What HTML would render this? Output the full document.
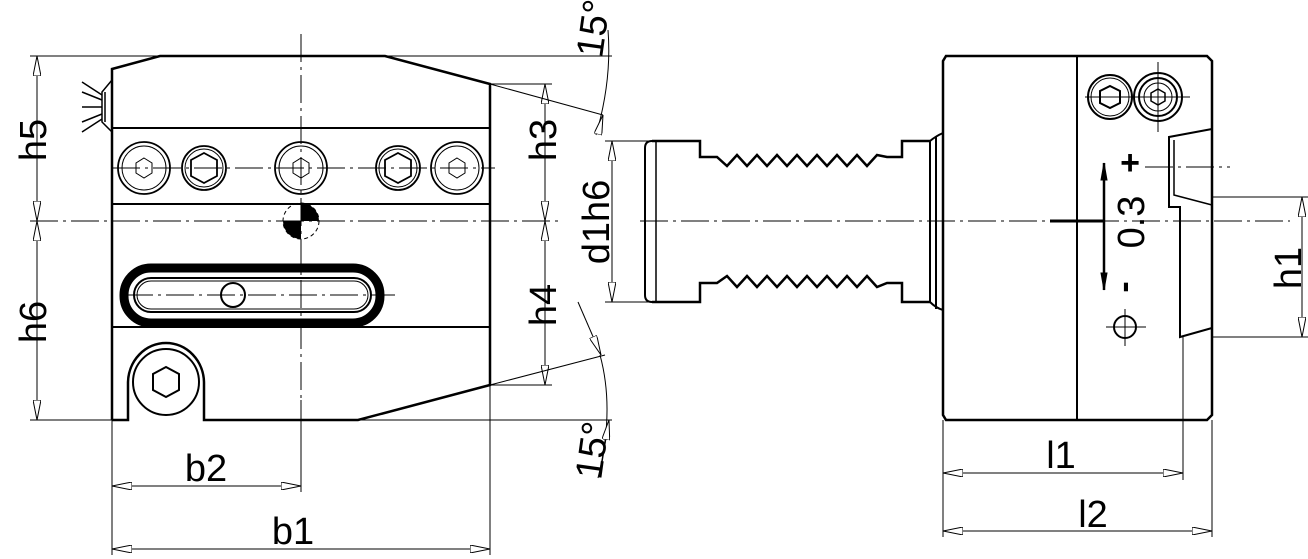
<!DOCTYPE html>
<html><head><meta charset="utf-8"><style>
html,body{margin:0;padding:0;background:#fff;}
svg{display:block;}
text{font-family:"Liberation Sans",sans-serif;fill:#000;}
</style></head><body>
<svg width="1308" height="559" viewBox="0 0 1308 559" xmlns="http://www.w3.org/2000/svg">
<defs>
<marker id="a" viewBox="0 0 20 8" refX="20" refY="4" markerWidth="20" markerHeight="8" orient="auto-start-reverse" markerUnits="userSpaceOnUse">
<path d="M0,0 L20,4 L0,8 Z" fill="#fff" stroke="#000" stroke-width="1"/>
</marker>
</defs>
<g fill="none" stroke="#000">
<g stroke-width="1" stroke-dasharray="28,5,3,5">
<line x1="30" y1="221" x2="560" y2="221"/>
<line x1="640" y1="221" x2="1290" y2="221"/>
<line x1="301" y1="34" x2="301" y2="440"/>
<line x1="112" y1="168" x2="495" y2="168"/>
<line x1="125" y1="295" x2="395" y2="295"/>
<line x1="1145" y1="167" x2="1230" y2="167"/>
</g>
<g stroke-width="2.5">
<path d="M112,420 V69 L160,56 H385 L490,84 V385 L358,420 H204 V383 M128,383 V420 H112"/>
<path d="M128,383 A38,40 0 0 1 204,383"/>
</g>
<g stroke-width="2">
<line x1="112" y1="128" x2="490" y2="128"/>
<line x1="112" y1="204" x2="490" y2="204"/>
<line x1="112" y1="327" x2="490" y2="327"/>
<circle cx="166" cy="382" r="33"/>
<polygon points="166,367 179,374 179,390 166,397 153,390 153,374"/>
</g>
<g stroke-width="1.8">
<circle cx="144" cy="168" r="26"/><circle cx="144" cy="168" r="22" stroke-width="1"/>
<polygon points="144,158 152,163 152,173 144,178 136,173 136,163" stroke-width="1"/>
<circle cx="204" cy="168" r="22"/><circle cx="204" cy="168" r="19" stroke-width="1"/>
<polygon points="204,153 217,160 217,176 204,183 191,176 191,160"/>
<circle cx="301" cy="168" r="26"/><circle cx="301" cy="168" r="22" stroke-width="1"/>
<polygon points="301,158 309,163 309,173 301,178 293,173 293,163" stroke-width="1"/>
<circle cx="398" cy="168" r="22"/><circle cx="398" cy="168" r="19" stroke-width="1"/>
<polygon points="398,153 411,160 411,176 398,183 385,176 385,160"/>
<circle cx="457" cy="168" r="26"/><circle cx="457" cy="168" r="22" stroke-width="1"/>
<polygon points="457,158 465,163 465,173 457,178 449,173 449,163" stroke-width="1"/>
</g>
<circle cx="301" cy="221" r="18" stroke-width="1" stroke-dasharray="4,3"/>
<path d="M301,221 V203 A18,18 0 0 1 319,221 Z M301,221 H283 A18,18 0 0 0 301,239 Z" fill="#000" stroke="none"/>
<rect x="124" y="268" width="256" height="55" rx="27" stroke-width="9"/>
<rect x="134" y="278" width="237" height="34" rx="17" stroke-width="2"/>
<rect x="137" y="281" width="231" height="28" rx="14" stroke-width="1"/>
<circle cx="233" cy="295" r="12" stroke-width="2"/>
<g stroke-width="1.5">
<path d="M112,80 L102,92 V122 L112,132"/>
<line x1="105" y1="92" x2="105" y2="122"/>
<line x1="82" y1="82" x2="102" y2="95"/><line x1="82" y1="92" x2="102" y2="100"/>
<line x1="82" y1="107" x2="102" y2="107"/><line x1="82" y1="122" x2="102" y2="114"/><line x1="82" y1="132" x2="102" y2="119"/>
</g>
<g stroke-width="1">
<line x1="30" y1="56" x2="160" y2="56"/>
<line x1="30" y1="420" x2="112" y2="420"/>
<line x1="385" y1="56" x2="612" y2="56"/>
<line x1="358" y1="420" x2="612" y2="420"/>
<line x1="490" y1="84" x2="552" y2="84"/>
<line x1="490" y1="385" x2="552" y2="385"/>
<line x1="37" y1="56" x2="37" y2="221" marker-start="url(#a)" marker-end="url(#a)"/>
<line x1="37" y1="221" x2="37" y2="420" marker-start="url(#a)" marker-end="url(#a)"/>
<line x1="545" y1="84" x2="545" y2="221" marker-start="url(#a)" marker-end="url(#a)"/>
<line x1="545" y1="221" x2="545" y2="385" marker-start="url(#a)" marker-end="url(#a)"/>
<line x1="605" y1="141" x2="650" y2="141"/>
<line x1="605" y1="302" x2="650" y2="302"/>
<line x1="612" y1="141" x2="612" y2="302" marker-start="url(#a)" marker-end="url(#a)"/>
<line x1="490" y1="84" x2="603" y2="115"/>
<line x1="490" y1="385" x2="605" y2="355"/>
<line x1="578" y1="302" x2="601" y2="355" marker-end="url(#a)"/>
<path d="M608,30 Q612,80 596,135"/>
<path d="M600,355 Q615,410 598,478"/>
<line x1="598" y1="134" x2="603" y2="115" marker-end="url(#a)"/>
<line x1="600" y1="475" x2="609" y2="420" marker-end="url(#a)"/>
<line x1="112" y1="420" x2="112" y2="555"/>
<line x1="301" y1="400" x2="301" y2="492"/>
<line x1="490" y1="385" x2="490" y2="555"/>
<line x1="112" y1="486" x2="301" y2="486" marker-start="url(#a)" marker-end="url(#a)"/>
<line x1="112" y1="549" x2="490" y2="549" marker-start="url(#a)" marker-end="url(#a)"/>
</g>
<g stroke-width="2.5">
<path d="M946,56 H1207 L1212,61 V415 L1207,420 H946 L943,415 V61 Z"/>
<line x1="1077" y1="56" x2="1077" y2="420" stroke-width="2"/>
<path d="M652,141 H700 V157 H717 L727,166 L737,155 L747,166 L757,155 L767,166 L777,155 L787,166 L797,155 L807,166 L817,155 L827,166 L837,155 L847,166 L857,155 L867,166 L877,155 L887,157 H902 V141 H930"/>
<path d="M652,302 H700 V283 H717 L727,276 L737,287 L747,276 L757,287 L767,276 L777,287 L787,276 L797,287 L807,276 L817,287 L827,276 L837,287 L847,276 L857,287 L867,276 L877,287 L887,283 H902 V302 H930"/>
<path d="M652,141 Q645,141 645,148 V295 Q645,302 652,302" stroke-width="2"/>
<line x1="656" y1="141" x2="656" y2="302" stroke-width="1.5"/>
<path d="M930,141 V302 M936,137 V309 M930,141 Q936,136 943,133 M930,302 Q936,308 943,310" stroke-width="2"/>
</g>
<g stroke-width="2">
<circle cx="1110" cy="97" r="22"/><circle cx="1110" cy="97" r="19" stroke-width="1"/>
<polygon points="1110,86 1120,91 1120,103 1110,108 1100,103 1100,91"/>
<circle cx="1158" cy="97" r="24"/><circle cx="1158" cy="97" r="19"/><circle cx="1158" cy="97" r="14" stroke-width="1"/>
<polygon points="1158,89 1165,93 1165,101 1158,105 1151,101 1151,93" stroke-width="1.5"/>
<path d="M1212,129 L1169,137 V207 H1180 V337 L1212,328"/>
<path d="M1174,140 V195 L1212,205" stroke-width="1.5"/>
<circle cx="1125" cy="327" r="11"/>
<line x1="1050" y1="221" x2="1104" y2="221" stroke-width="3"/>
</g>
<g stroke-width="1">
<line x1="1158" y1="62" x2="1158" y2="132"/><line x1="1085" y1="97" x2="1190" y2="97"/>
<line x1="1125" y1="309" x2="1125" y2="346"/><line x1="1106" y1="327" x2="1146" y2="327"/>
<line x1="1104" y1="163" x2="1104" y2="290" stroke-width="2.5"/>
<path d="M1101,180 L1104,163 L1107,180 Z M1101,273 L1104,290 L1107,273 Z" fill="#000"/>
<line x1="1212" y1="197" x2="1308" y2="197"/>
<line x1="1212" y1="337" x2="1308" y2="337"/>
<line x1="1302" y1="197" x2="1302" y2="337" marker-start="url(#a)" marker-end="url(#a)"/>
<line x1="943" y1="420" x2="943" y2="537"/>
<line x1="1183" y1="337" x2="1183" y2="480"/>
<line x1="1212" y1="420" x2="1212" y2="537"/>
<line x1="943" y1="473" x2="1183" y2="473" marker-start="url(#a)" marker-end="url(#a)"/>
<line x1="943" y1="531" x2="1212" y2="531" marker-start="url(#a)" marker-end="url(#a)"/>
</g>
</g>
<g font-size="38">
<text transform="translate(46,140) rotate(-90)" text-anchor="middle">h5</text>
<text transform="translate(46,322) rotate(-90)" text-anchor="middle">h6</text>
<text transform="translate(556,140) rotate(-90)" text-anchor="middle">h3</text>
<text transform="translate(556,305) rotate(-90)" text-anchor="middle">h4</text>
<text transform="translate(609,222) rotate(-90)" text-anchor="middle">d1h6</text>
<text transform="translate(1301,268) rotate(-90)" text-anchor="middle">h1</text>
<text transform="translate(1144,222) rotate(-90)" text-anchor="middle">0.3</text>
<text transform="translate(606,30) rotate(-82)" text-anchor="middle">15°</text>
<text transform="translate(605,452) rotate(-82)" text-anchor="middle">15°</text>
<text x="206" y="481" text-anchor="middle">b2</text>
<text x="293" y="544" text-anchor="middle">b1</text>
<text x="1061" y="468" text-anchor="middle">l1</text>
<text x="1093" y="527" text-anchor="middle">l2</text>
<text x="1130" y="174" text-anchor="middle" font-weight="bold" font-size="34">+</text>
<text transform="translate(1135,287) rotate(-90)" text-anchor="middle" font-weight="bold" font-size="34">-</text>
</g>
</svg>
</body></html>
